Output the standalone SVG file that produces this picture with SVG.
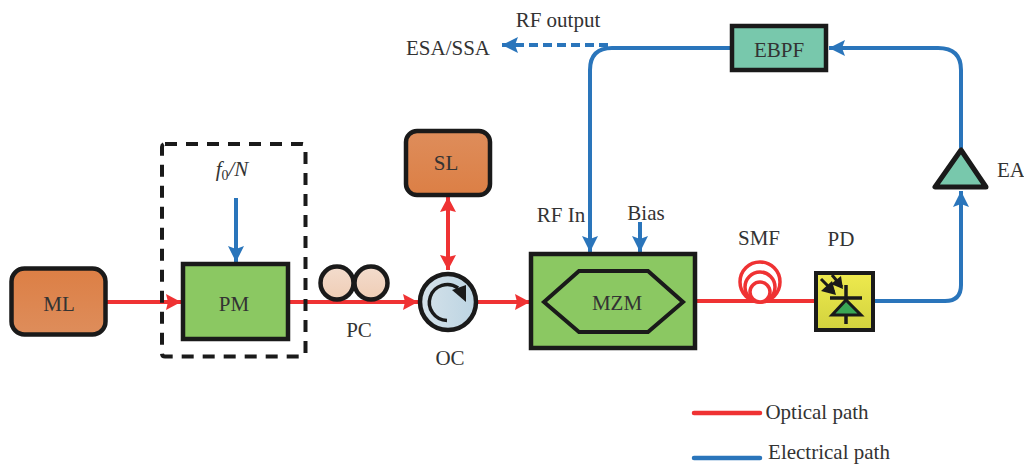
<svg xmlns="http://www.w3.org/2000/svg" width="1024" height="464" viewBox="0 0 1024 464">
<defs>
<linearGradient id="org" x1="0" y1="0" x2="0" y2="1"><stop offset="0" stop-color="#de8d5b"/><stop offset="1" stop-color="#dc7f45"/></linearGradient>
<linearGradient id="org2" x1="0" y1="0" x2="0" y2="1"><stop offset="0" stop-color="#dc7f45"/><stop offset="1" stop-color="#de8d5b"/></linearGradient>
<linearGradient id="pc" x1="0" y1="0" x2="0" y2="1"><stop offset="0" stop-color="#f3dccd"/><stop offset="1" stop-color="#efcdb5"/></linearGradient>
<linearGradient id="oc" x1="0" y1="0" x2="1" y2="0"><stop offset="0" stop-color="#d5e2ea"/><stop offset="1" stop-color="#bcd4e2"/></linearGradient>
<linearGradient id="pd" x1="0" y1="0" x2="0" y2="1"><stop offset="0" stop-color="#eeea4e"/><stop offset="1" stop-color="#d2d23e"/></linearGradient>
<marker id="r" markerUnits="userSpaceOnUse" markerWidth="16" markerHeight="18" refX="15" refY="9" orient="auto-start-reverse"><path d="M0 1L15 9L0 17L2 9Z" fill="#ef3233"/></marker>
<marker id="b" markerUnits="userSpaceOnUse" markerWidth="17" markerHeight="18" refX="16" refY="9" orient="auto-start-reverse"><path d="M0 1L16 9L0 17L3 9Z" fill="#2a75bb"/></marker>
</defs>
<style>
text{font-family:"Liberation Serif","Times New Roman",serif;font-size:21px;fill:#333;text-anchor:middle}
.box{stroke:#1a1a1a;stroke-width:4.5}
.ro{fill:none;stroke:#ef3233;stroke-width:4}
.bl{fill:none;stroke:#2a75bb;stroke-width:4}
.blk{fill:none;stroke:#1a1a1a}
.leg{stroke-linecap:round;stroke-width:4.5}
</style>
<g id="connectors">
<path class="ro" d="M105 302H181" marker-end="url(#r)"/>
<path class="ro" d="M290 302H418" marker-end="url(#r)"/>
<path class="ro" d="M477 302H530" marker-end="url(#r)"/>
<path class="ro" d="M448 197V270" marker-start="url(#r)" marker-end="url(#r)"/>
<path class="ro" d="M696 301H815"/>
<path class="bl" d="M236 198V262" marker-end="url(#b)"/>
<path class="bl" d="M640 222V252" marker-end="url(#b)"/>
<path class="bl" d="M875 301H945Q961 301 961 285V191" marker-end="url(#b)"/>
<path class="bl" d="M961 148V70Q961 48 938 48H829" marker-end="url(#b)"/>
<path class="bl" d="M731 48H612Q590 48 590 70V252" marker-end="url(#b)"/>
<path class="bl" d="M608 45H502" stroke-dasharray="9 5" marker-end="url(#b)"/>
<path class="ro leg" d="M694 413H760"/>
<path class="bl leg" d="M694 458H760"/>
</g>
<g id="dashed-box"><rect x="162" y="144" width="143.500" height="212.500" rx="3" fill="none" stroke="#1a1a1a" stroke-width="4" stroke-dasharray="12 9"/></g>
<g id="ML"><rect class="box" x="11.500" y="268.500" width="94" height="66" rx="13" fill="url(#org2)"/><text x="59" y="311">ML</text></g>
<g id="PM"><rect class="box" x="183" y="264" width="105" height="75" fill="#8bc862"/><text x="234" y="311">PM</text></g>
<g id="fN"><text x="232" y="176"><tspan font-style="italic">f</tspan><tspan font-size="14" dy="4">0</tspan><tspan font-style="italic" dy="-4">/N</tspan></text></g>
<g id="PC"><circle class="box" cx="337" cy="283" r="16.500" fill="url(#pc)"/><circle class="box" cx="371" cy="283" r="16.500" fill="url(#pc)"/><text x="359" y="337">PC</text></g>
<g id="SL"><rect class="box" x="406" y="131" width="84" height="64" rx="11" fill="url(#org)"/><text x="446" y="170">SL</text></g>
<g id="OC"><circle class="box" cx="448" cy="302" r="28" fill="url(#oc)"/><path d="M447 320.500A18 18 0 1 1 458 288" fill="none" stroke="#1a1a1a" stroke-width="3.500"/><path d="M452 290L466 285V302Z" fill="#1a1a1a"/><text x="450" y="365">OC</text></g>
<g id="MZM"><rect class="box" x="531" y="254" width="164" height="94" fill="#8bc862"/><path d="M544 302L579 271H648L683 302L648 332H579Z" fill="none" stroke="#1a1a1a" stroke-width="4"/><text x="617" y="310">MZM</text></g>
<g id="RFIn"><text x="561" y="222">RF In</text></g>
<g id="Bias"><text x="646" y="220">Bias</text></g>
<g id="SMF"><circle cx="760" cy="282" r="20" fill="none" stroke="#ef3233" stroke-width="3.500"/><circle cx="760" cy="287" r="15" fill="none" stroke="#ef3233" stroke-width="3.500"/><circle cx="760" cy="292" r="10" fill="#fff" stroke="#ef3233" stroke-width="3.500"/><text x="759" y="245">SMF</text></g>
<g id="PD"><rect x="816" y="273" width="57" height="57" fill="url(#pd)" stroke="#1a1a1a" stroke-width="4"/><path class="blk" stroke-width="3.500" d="M846 285V324M830 298H862"/><path d="M832 315L846 300L861 315Z" fill="#3aa655" stroke="#1a1a1a" stroke-width="3"/><path class="blk" stroke-width="3" d="M821 279L834 292M832 275L842 287"/><path d="M821 291L832 281L836 295ZM831 284L841 276L843 289Z" fill="#1a1a1a"/><text x="841" y="246">PD</text></g>
<g id="EA"><path d="M961 150L935 187H986Z" fill="#78c8ac" stroke="#1a1a1a" stroke-width="5" stroke-linejoin="round"/><text x="1011" y="177">EA</text></g>
<g id="EBPF"><rect class="box" x="732" y="26" width="94" height="44" fill="#78c8ac"/><text x="779" y="57" font-size="22">EBPF</text></g>
<g id="labels"><text x="558" y="27">RF output</text><text x="448" y="55">ESA/SSA</text><text x="817" y="419">Optical path</text><text x="829" y="459">Electrical path</text></g>
</svg>
